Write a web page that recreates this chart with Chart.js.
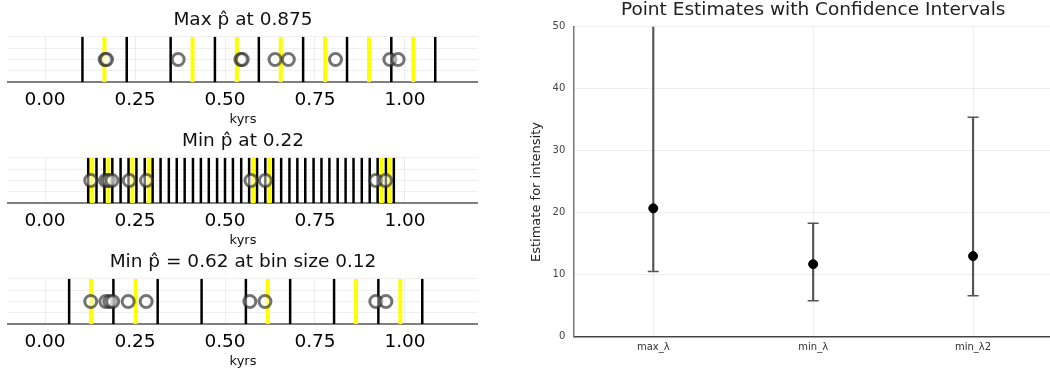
<!DOCTYPE html>
<html>
<head>
<meta charset="utf-8">
<script src="https://cdn.jsdelivr.net/npm/chart.js@4"></script>
<style>
  html, body { margin: 0; padding: 0; background: #fff; overflow: hidden; }
  .panel { position: absolute; }
</style>
</head>
<body>
<div class="panel" style="left:0;top:0;width:478px;height:127px"><canvas id="bins1"></canvas></div>
<div class="panel" style="left:0;top:121px;width:478px;height:127px"><canvas id="bins2"></canvas></div>
<div class="panel" style="left:0;top:242px;width:478px;height:127px"><canvas id="bins3"></canvas></div>
<div class="panel" style="left:520px;top:0;width:540px;height:373px"><canvas id="ciChart"></canvas></div>
<script>
// binned event panels (left) + point estimates with CIs (right)

const FONT = 'DejaVu Sans';
const X_TICKS = [0, 0.25, 0.5, 0.75, 1.0];

// panel 1 — wide bins
const EDGES_1  = [0.104, 0.227, 0.349, 0.472, 0.594, 0.717, 0.839, 0.962, 1.084];
const FILLED_1 = [0.165, 0.410, 0.533, 0.655, 0.778, 0.900, 1.023];
const EVENTS_1 = [0.167, 0.171, 0.370, 0.544, 0.548, 0.639, 0.676, 0.807, 0.958, 0.981];

// panel 2 — narrow bins
const EDGES_2 = [
  0.120, 0.143, 0.165, 0.187, 0.210, 0.232, 0.254, 0.277, 0.299, 0.321,
  0.344, 0.366, 0.388, 0.411, 0.433, 0.455, 0.478, 0.500, 0.522, 0.545,
  0.567, 0.589, 0.612, 0.634, 0.656, 0.679, 0.701, 0.723, 0.746, 0.768,
  0.790, 0.813, 0.835, 0.857, 0.880, 0.902, 0.924, 0.947, 0.969,
];
const FILLED_2 = [0.131, 0.176, 0.243, 0.288, 0.578, 0.623, 0.935, 0.958];
const EVENTS_2 = [0.127, 0.168, 0.176, 0.186, 0.234, 0.282, 0.572, 0.612, 0.919, 0.946];

// panel 3 — bin size 0.12
const EDGES_3  = [0.067, 0.190, 0.313, 0.435, 0.558, 0.681, 0.803, 0.926, 1.048];
const FILLED_3 = [0.128, 0.252, 0.619, 0.864, 0.987];
const EVENTS_3 = [0.127, 0.169, 0.180, 0.188, 0.231, 0.281, 0.569, 0.611, 0.919, 0.947];

// right chart
const CATEGORIES = ['max_λ', 'min_λ', 'min_λ2'];
const ESTIMATES  = [20.7, 11.7, 13.0];
const CI_LOW     = [10.5, 5.8, 6.6];
const CI_HIGH    = [62.0, 18.3, 35.4];

Chart.defaults.font.family = FONT;

// vertical segments from y=0 to y=1, broken by null points
const vlines = xs => xs.flatMap(x => [{ x, y: 0 }, { x, y: 1 }, { x, y: null }]);

function binPanel(id, title, edges, filled, events) {
  new Chart(document.getElementById(id), {
    type: 'line',
    data: {
      datasets: [
        { data: vlines(filled), borderColor: '#ffff00', borderWidth: 4, pointRadius: 0, order: 3 },
        { data: vlines(edges), borderColor: '#000', borderWidth: 2.5, pointRadius: 0, order: 2 },
        {
          data: events.map(x => ({ x, y: 0.5 })),
          showLine: false,
          pointRadius: 6,
          pointBorderWidth: 3,
          pointBackgroundColor: 'rgba(255,255,255,0.45)',
          pointBorderColor: 'rgba(40,40,40,0.65)',
          order: 1,
        },
      ]
    },
    options: {
      responsive: true,
      maintainAspectRatio: false,
      animation: false,
      layout: { autoPadding: false, padding: { left: 8, right: 0, top: 0, bottom: 0 } },
      plugins: {
        legend: { display: false },
        tooltip: { enabled: false },
        title: {
          display: true, text: title, color: '#111',
          font: { size: 18.5, weight: 'normal' },
          padding: { top: 9, bottom: 5.5 },
        },
      },
      scales: {
        x: {
          type: 'linear', min: -0.1028, max: 1.2028,
          afterBuildTicks: s => { s.ticks = X_TICKS.map(v => ({ value: v })); },
          ticks: { callback: v => v.toFixed(2), color: '#000', font: { size: 18.5 }, padding: 6.5, maxRotation: 0 },
          grid: { color: 'rgba(0,0,0,0.07)', drawTicks: false },
          border: { color: '#7f7f7f', width: 2 },
          title: { display: true, text: 'kyrs', color: '#111', font: { size: 13 }, padding: { top: -6, bottom: 0 } },
        },
        y: {
          min: 0, max: 1,
          ticks: { display: false, stepSize: 0.25 },
          grid: { color: 'rgba(0,0,0,0.06)', drawTicks: false },
          border: { display: false },
        }
      }
    }
  });
}

document.addEventListener('DOMContentLoaded', () => {
  binPanel('bins1', 'Max p\u0302 at 0.875', EDGES_1, FILLED_1, EVENTS_1);
  binPanel('bins2', 'Min p\u0302 at 0.22', EDGES_2, FILLED_2, EVENTS_2);
  binPanel('bins3', 'Min p\u0302 = 0.62 at bin size 0.12', EDGES_3, FILLED_3, EVENTS_3);

  const capStyle = { type: 'line', showLine: false, pointStyle: 'line', pointRadius: 5.5,
                     pointBorderColor: '#555', pointBorderWidth: 1.5, order: 1 };

  new Chart(document.getElementById('ciChart'), {
    type: 'bar',
    data: {
      labels: CATEGORIES,
      datasets: [
        { type: 'line', data: ESTIMATES, showLine: false, pointRadius: 4.5,
          pointBackgroundColor: '#000', pointBorderColor: '#000', pointBorderWidth: 1, order: 0 },
        { ...capStyle, data: CI_LOW },
        { ...capStyle, data: CI_HIGH },
        { type: 'bar', data: CI_LOW.map((lo, i) => [lo, CI_HIGH[i]]),
          backgroundColor: '#555', barThickness: 1.5, order: 2 },
      ]
    },
    options: {
      responsive: true,
      maintainAspectRatio: false,
      animation: false,
      layout: { autoPadding: false, padding: { left: 5, right: 7, top: 0, bottom: 14.3 } },
      plugins: {
        legend: { display: false },
        tooltip: { enabled: false },
      },
      scales: {
        x: {
          offset: true,
          ticks: { color: '#333', font: { size: 10 }, padding: 5 },
          grid: { offset: false, color: 'rgba(0,0,0,0.07)', drawTicks: false },
          border: { color: '#444', width: 1.5 },
        },
        // empty top axis, only used so the title centres over the plot area
        top: {
          type: 'category', position: 'top', offset: true,
          ticks: { display: false },
          grid: { display: false, drawTicks: false },
          border: { display: false },
          title: { display: true, text: 'Point Estimates with Confidence Intervals', color: '#222',
                   font: { size: 18.5 }, padding: { top: -1, bottom: 5.5 } },
        },
        y: {
          min: 0, max: 50,
          ticks: { stepSize: 10, color: '#444', font: { size: 10 }, padding: 8 },
          grid: { color: 'rgba(0,0,0,0.07)', drawTicks: false },
          border: { color: '#777', width: 1.5 },
          // trailing spaces nudge the rotated label down a little
          title: { display: true, text: 'Estimate for intensity     ', color: '#222',
                   font: { size: 13 }, padding: { top: 4, bottom: 0 } },
        }
      }
    }
  });
});
</script>
</body>
</html>
